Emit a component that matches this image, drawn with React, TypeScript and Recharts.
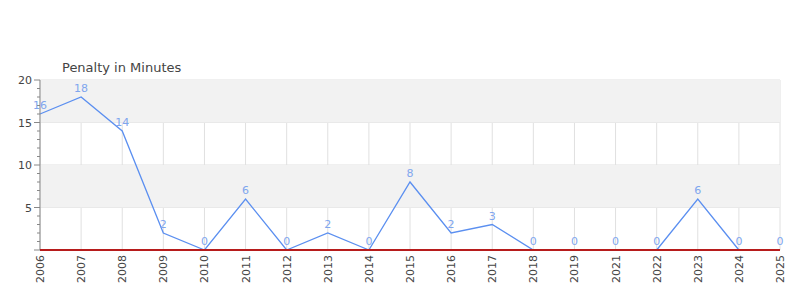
import React from "react"
import { LineChart, Line, XAxis, YAxis, CartesianGrid, ReferenceArea, ReferenceLine, LabelList } from "recharts"

const years = ["2006", "2007", "2008", "2009", "2010", "2011", "2012", "2013", "2014", "2015", "2016", "2017", "2018", "2019", "2021", "2022", "2023", "2024", "2025"]
const penalty = [16, 18, 14, 2, 0, 6, 0, 2, 0, 8, 2, 3, 0, 0, 0, 0, 6, 0, 0]
const yTicks = [0, 1, 2, 3, 4, 5, 6, 7, 8, 9, 10, 11, 12, 13, 14, 15, 16, 17, 18, 19, 20]
const bands = [[5, 10], [15, 20]]

const FONT = "DejaVu Sans, sans-serif"

const data = years.map((y, i) => ({ year: y, value: penalty[i] }))

// y ticks: labels every 5, minor marks every 1
function YTick(props: any) {
  const { x, y, payload } = props
  const v = payload.value
  const major = v % 5 === 0
  const axisX = x + 8
  return (
    <g>
      <line x1={axisX - (major ? 6 : 3)} x2={axisX} y1={y} y2={y} stroke="#888" />
      {major && v !== 0 && (
        <text x={axisX - 8} y={y} dy={4} textAnchor="end" fontSize={11} fill="#444" fontFamily={FONT}>
          {v}
        </text>
      )}
    </g>
  )
}

function XTick(props: any) {
  const { x, payload } = props
  return (
    <text
      x={0}
      y={0}
      transform={`translate(${x + 4}, 255) rotate(-90)`}
      textAnchor="end"
      fontSize={11}
      fill="#444"
      fontFamily={FONT}
    >
      {payload.value}
    </text>
  )
}

export default function App() {
  return (
    <div style={{ margin: -8, position: "relative", width: 800, height: 300, background: "#fff" }}>
      <div style={{ position: "absolute", left: 62, top: 60, fontFamily: FONT, fontSize: 13, color: "#444" }}>
        Penalty in Minutes
      </div>
      <LineChart width={800} height={300} data={data} margin={{ top: 80, right: 20, left: 0, bottom: 0 }}>
        {bands.map(([a, b]) => (
          <ReferenceArea key={a} y1={a} y2={b} fill="#f2f2f2" fillOpacity={1} stroke="none" />
        ))}
        <CartesianGrid stroke="#e0e0e0" horizontalValues={[5, 10, 15, 20]} />
        <XAxis dataKey="year" height={50} tick={<XTick />} tickLine={false} axisLine={false} interval={0} />
        <YAxis
          width={40}
          domain={[0, 20]}
          ticks={yTicks}
          interval={0}
          tick={<YTick />}
          tickLine={false}
          tickSize={6}
          tickMargin={2}
          axisLine={{ stroke: "#888" }}
        />
        <Line
          type="linear"
          dataKey="value"
          stroke="#5b8ff0"
          strokeWidth={1.3}
          dot={false}
          isAnimationActive={false}
        >
          <LabelList dataKey="value" position="top" offset={5} fontSize={11} fill="#80a6ee" fontFamily={FONT} />
        </Line>
        <ReferenceLine y={0} stroke="#b71c1c" strokeWidth={2} zIndex={1000} />
      </LineChart>
    </div>
  )
}
